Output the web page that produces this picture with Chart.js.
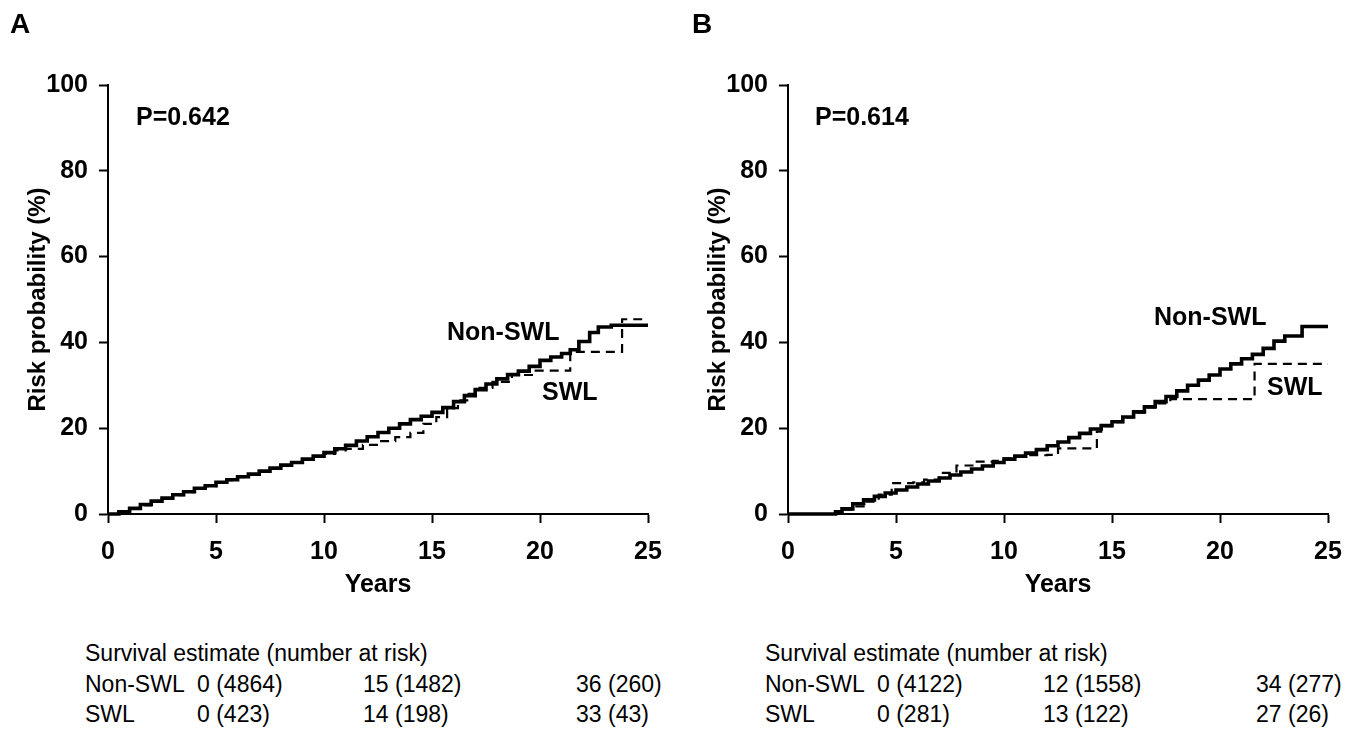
<!DOCTYPE html>
<html><head><meta charset="utf-8">
<script src="https://cdn.jsdelivr.net/npm/chart.js@4.4.0/dist/chart.umd.min.js"></script>
<style>
html,body{margin:0;padding:0;background:#fff;}
body{width:1364px;height:737px;position:relative;overflow:hidden;font-family:"Liberation Sans",Arial,sans-serif;color:#000;}
.pan{position:absolute;top:0;height:600px;}
.t{position:absolute;white-space:nowrap;line-height:1;}
.b{font-weight:bold;font-size:25px;}
.r{font-size:23px;}
</style></head><body>
<div class="pan" style="left:0;width:682px"><canvas id="ca" width="682" height="600"></canvas></div>
<div class="pan" style="left:680px;width:684px"><canvas id="cb" width="684" height="600"></canvas></div>

<div class="t b" style="left:10px;top:10px;font-size:28px">A</div>
<div class="t b" style="left:692px;top:10px;font-size:28px">B</div>
<div class="t b" style="left:136px;top:104px">P=0.642</div>
<div class="t b" style="left:815px;top:104px">P=0.614</div>
<div class="t b" style="left:447px;top:319px">Non-SWL</div>
<div class="t b" style="left:542px;top:379px">SWL</div>
<div class="t b" style="left:1154px;top:304px">Non-SWL</div>
<div class="t b" style="left:1267px;top:374px">SWL</div>
<div id="tables"></div>

<script>
// ---- data ----
const xTicks = [0, 5, 10, 15, 20, 25];
const yTicks = [0, 20, 40, 60, 80, 100];

// Panel A: cumulative risk (%) step curves (value holds from time i until time i+1)
const aNonSwlT = [0,0.5,1,1.5,2,2.5,3,3.5,4,4.5,5,5.5,6,6.5,7,7.5,8,8.5,9,9.5,10,10.5,11,11.5,12,12.5,13,13.5,14,14.5,15,15.5,16,16.5,17,17.5,18,18.5,19,19.5,20,20.5,21,21.4,21.8,22.3,22.7,23.3,25];
const aNonSwlR = [0,0.5,1.3,2.2,3.0,3.7,4.5,5.2,6.0,6.6,7.4,8.0,8.7,9.3,10.0,10.7,11.4,12.0,12.8,13.5,14.3,15.2,16.0,17.0,18.0,19.0,20.0,21.0,22.0,22.8,23.7,24.8,26.2,27.6,29.0,30.3,31.5,32.5,33.3,34.4,35.8,36.6,37.4,38.3,40.2,42.3,43.6,44.0,44.0];
const aSwlT = [0,0.5,1,1.5,2,2.5,3,3.5,4,4.5,5,5.5,6,6.5,7,7.5,8,8.5,9,9.5,10,10.5,11.0,11.8,12.5,13.3,14.0,14.6,15.2,15.7,16.2,16.7,17.2,17.8,18.7,19.8,21.4,23.8,25];
const aSwlR = [0,0.4,1.2,2.0,2.9,3.6,4.4,5.1,5.9,6.5,7.3,7.9,8.6,9.2,9.9,10.6,11.3,11.9,12.7,13.4,14.0,14.8,15.2,16.1,17.0,17.9,18.9,21.0,22.6,24.7,26.5,28.0,29.4,30.8,32.4,33.4,37.8,45.4,45.4];

// Panel B
const bNonSwlT = [0,2.0,2.2,2.5,3,3.5,4,4.5,5,5.5,6,6.5,7,7.5,8,8.5,9,9.5,10,10.5,11,11.5,12,12.5,13,13.5,14,14.5,15,15.5,16,16.5,17,17.5,18,18.5,19,19.5,20,20.5,21,21.5,22,22.5,23,23.8,25];
const bNonSwlR = [0,0,0.5,1.2,2.4,3.3,4.1,4.9,5.6,6.3,7.0,7.7,8.4,9.1,9.8,10.5,11.2,12.0,12.8,13.5,14.2,15.0,15.9,16.8,17.8,18.8,19.8,20.6,21.5,22.6,23.8,25.0,26.2,27.4,28.7,30.0,31.2,32.4,33.8,35.0,36.2,37.2,38.6,40.3,41.5,43.7,43.7];
const bSwlT = [0,2.3,2.5,3.0,3.5,4.2,4.8,5.8,6.3,7.0,7.8,8.6,9.5,10.0,10.5,11.0,12.0,12.5,14.3,14.5,15.0,15.5,16.0,16.5,17.0,17.7,21.6,25];
const bSwlR = [0,0,1.0,1.8,2.9,4.5,7.2,7.4,8.0,9.6,11.3,12.2,12.4,13.0,13.5,13.7,13.8,15.3,19.2,20.5,21.4,22.5,23.6,24.8,25.8,26.8,35.0,35.0];

// number-at-risk tables
const tableTitle = 'Survival estimate (number at risk)';
const rowLabels = ['Non-SWL', 'SWL'];
const aNonSwlTable = ['0 (4864)', '15 (1482)', '36 (260)'];
const aSwlTable = ['0 (423)', '14 (198)', '33 (43)'];
const bNonSwlTable = ['0 (4122)', '12 (1558)', '34 (277)'];
const bSwlTable = ['0 (281)', '13 (122)', '27 (26)'];

// ---- tables (HTML text) ----
function addText(txt, left, top){
  const d = document.createElement('div');
  d.className = 't r';
  d.style.left = left + 'px';
  d.style.top = top + 'px';
  d.textContent = txt;
  document.getElementById('tables').appendChild(d);
}
function table(x0, cols, r1, r2){
  const rows = [642, 673, 703];
  addText(tableTitle, x0, rows[0]);
  addText(rowLabels[0], x0, rows[1]);
  addText(rowLabels[1], x0, rows[2]);
  cols.forEach((cx, i) => { addText(r1[i], cx, rows[1]); addText(r2[i], cx, rows[2]); });
}
table(85, [197, 363, 576], aNonSwlTable, aSwlTable);
table(765, [877, 1043, 1256], bNonSwlTable, bSwlTable);

// ---- charts ----
Chart.defaults.font.family = '"Liberation Sans", Arial, sans-serif';
Chart.defaults.color = '#000';
const pts = (T, R) => T.map((t, i) => ({x: t, y: R[i]}));
const bold = (s) => ({family: '"Liberation Sans", Arial, sans-serif', size: s, weight: 'bold'});

function mk(id, padRight, nsT, nsR, swT, swR){
  return new Chart(document.getElementById(id), {
    type: 'line',
    data: {datasets: [
      {label: 'Non-SWL', data: pts(nsT, nsR), borderColor: '#000', borderWidth: 3.6,
       pointRadius: 0, stepped: 'before', fill: false, clip: false,
       borderCapStyle: 'butt', borderJoinStyle: 'miter'},
      {label: 'SWL', data: pts(swT, swR), borderColor: '#000', borderWidth: 2.2,
       borderDash: [9, 6], pointRadius: 0, stepped: 'before', fill: false, clip: false,
       borderCapStyle: 'butt', borderJoinStyle: 'miter'}
    ]},
    options: {
      responsive: false, animation: false, devicePixelRatio: 1,
      layout: {padding: {top: 85, right: padRight, left: 0, bottom: 0}},
      plugins: {legend: {display: false}, tooltip: {enabled: false}},
      scales: {
        x: {
          type: 'linear', min: 0, max: 25,
          afterBuildTicks: (s) => { s.ticks = xTicks.map(v => ({value: v})); },
          ticks: {font: bold(25), color: '#000', padding: 14, maxRotation: 0},
          grid: {drawOnChartArea: false, drawTicks: true, tickLength: 9, tickWidth: 2, color: '#000'},
          border: {display: true, color: '#000', width: 2},
          title: {display: true, text: 'Years', font: bold(25), color: '#000', padding: {top: 0, bottom: 0}},
          afterFit: (s) => { s.height = 86; }
        },
        y: {
          type: 'linear', min: 0, max: 100,
          afterBuildTicks: (s) => { s.ticks = yTicks.map(v => ({value: v})); },
          ticks: {font: bold(25), color: '#000', padding: 11},
          grid: {drawOnChartArea: false, drawTicks: true, tickLength: 9, tickWidth: 2, color: '#000'},
          border: {display: true, color: '#000', width: 2},
          title: {display: true, text: 'Risk probability (%)', font: bold(24), color: '#000', padding: {top: 24, bottom: 0}},
          afterFit: (s) => { s.width = 108; }
        }
      }
    }
  });
}
mk('ca', 34, aNonSwlT, aNonSwlR, aSwlT, aSwlR);
mk('cb', 36, bNonSwlT, bNonSwlR, bSwlT, bSwlR);
</script>
</body></html>
